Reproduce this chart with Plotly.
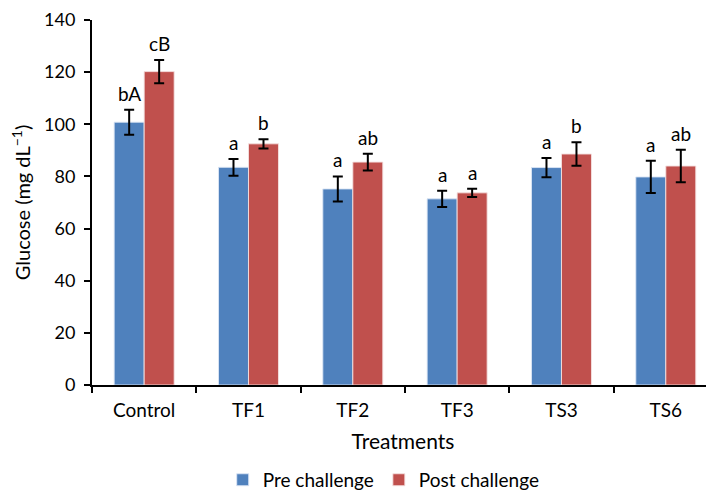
import plotly.graph_objects as go

categories = ["Control", "TF1", "TF2", "TF3", "TS3", "TS6"]
pre_values = [100.8, 83.5, 75.2, 71.4, 83.4, 79.8]
pre_errors = [4.8, 3.2, 4.8, 3.1, 3.7, 6.2]
post_values = [120.2, 92.5, 85.5, 73.7, 88.6, 84.0]
post_errors = [4.5, 1.8, 3.2, 1.6, 4.5, 6.2]
pre_labels = ["bA", "a", "a", "a", "a", "a"]
post_labels = ["cB", "b", "ab", "a", "b", "ab"]

FONT = "Lato, 'Open Sans', sans-serif"

fig = go.Figure()
fig.add_trace(go.Bar(
    x=categories, y=pre_values, name="Pre challenge",
    marker=dict(color="#4F81BD", line=dict(color="rgba(220,230,245,0.9)", width=1)),
    error_y=dict(type="data", array=pre_errors, color="black", thickness=2, width=5),
))
fig.add_trace(go.Bar(
    x=categories, y=post_values, name="Post challenge",
    marker=dict(color="#C0504D", line=dict(color="rgba(245,225,225,0.9)", width=1)),
    error_y=dict(type="data", array=post_errors, color="black", thickness=2, width=5),
))

for i, c in enumerate(categories):
    fig.add_annotation(x=c, y=pre_values[i] + pre_errors[i], text=pre_labels[i],
                       xref="x", yref="y", showarrow=False, xshift=-15,
                       yanchor="bottom", yshift=3,
                       font=dict(size=19, color="black", family=FONT))
    fig.add_annotation(x=c, y=post_values[i] + post_errors[i], text=post_labels[i],
                       xref="x", yref="y", showarrow=False, xshift=15,
                       yanchor="bottom", yshift=3,
                       font=dict(size=19, color="black", family=FONT))

fig.update_layout(
    width=706, height=491,
    margin=dict(l=84, r=0, t=12, b=104),
    paper_bgcolor="white", plot_bgcolor="white",
    barmode="group", bargap=0.425, bargroupgap=0,
    font=dict(family=FONT, size=18, color="black"),
    showlegend=True,
    legend=dict(orientation="h", x=0.469, xanchor="center", y=-0.26, yanchor="middle",
                font=dict(size=19), itemwidth=30, traceorder="normal"),
)
fig.update_xaxes(
    range=[-0.5, 5.462], automargin=False,
    showline=True, linecolor="black", linewidth=2,
    ticks="outside", tickson="boundaries", ticklen=6, tickwidth=2, tickcolor="black",
    tickfont=dict(size=19), ticklabelstandoff=7,
    title=dict(text="Treatments", font=dict(size=21), standoff=15),
)
fig.update_yaxes(
    range=[0, 140], dtick=20, automargin=False,
    showline=True, linecolor="black", linewidth=2,
    ticks="outside", ticklen=6, tickwidth=2, tickcolor="black",
    showgrid=False, zeroline=False,
    tickfont=dict(size=18), ticklabelstandoff=5, ticklabeloverflow="allow",
    title=dict(text="Glucose (mg dL<sup>−1</sup>)", font=dict(size=20), standoff=10),
)

fig.write_html("out.html")
